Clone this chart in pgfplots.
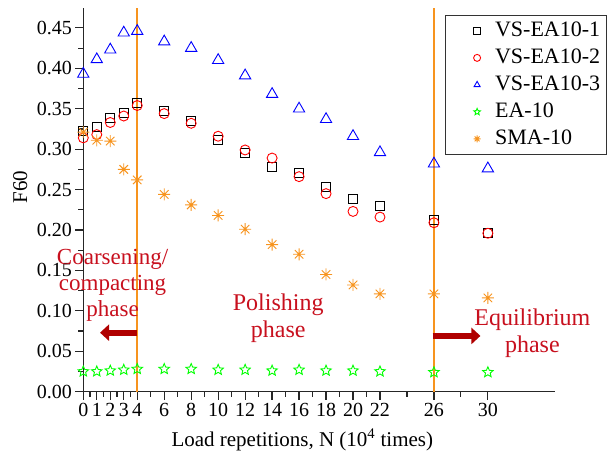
\documentclass[border=0pt]{standalone}
\usepackage{pgfplots}
\pgfplotsset{compat=1.18}
\usepackage{pgfplotstable}
\usepackage{fontspec}
\setmainfont{Liberation Serif}
\usetikzlibrary{arrows.meta}
\definecolor{myorange}{RGB}{247,148,30}
\definecolor{anncol}{RGB}{200,16,30}
\definecolor{arrcol}{RGB}{176,0,0}
\definecolor{mygreen}{RGB}{0,255,0}

\pgfdeclareplotmark{ast8}{%
  \pgfpathmoveto{\pgfqpoint{-\pgfplotmarksize}{0pt}}\pgfpathlineto{\pgfqpoint{\pgfplotmarksize}{0pt}}%
  \pgfpathmoveto{\pgfqpoint{0pt}{-\pgfplotmarksize}}\pgfpathlineto{\pgfqpoint{0pt}{\pgfplotmarksize}}%
  \pgfpathmoveto{\pgfpointpolar{45}{\pgfplotmarksize}}\pgfpathlineto{\pgfpointpolar{225}{\pgfplotmarksize}}%
  \pgfpathmoveto{\pgfpointpolar{135}{\pgfplotmarksize}}\pgfpathlineto{\pgfpointpolar{315}{\pgfplotmarksize}}%
  \pgfusepathqstroke}
\pgfdeclareplotmark{ostar}{%
  \pgfpathmoveto{\pgfpointpolar{90}{\pgfplotmarksize}}%
  \pgfpathlineto{\pgfpointpolar{126}{0.45\pgfplotmarksize}}%
  \pgfpathlineto{\pgfpointpolar{162}{\pgfplotmarksize}}%
  \pgfpathlineto{\pgfpointpolar{198}{0.45\pgfplotmarksize}}%
  \pgfpathlineto{\pgfpointpolar{234}{\pgfplotmarksize}}%
  \pgfpathlineto{\pgfpointpolar{270}{0.45\pgfplotmarksize}}%
  \pgfpathlineto{\pgfpointpolar{306}{\pgfplotmarksize}}%
  \pgfpathlineto{\pgfpointpolar{342}{0.45\pgfplotmarksize}}%
  \pgfpathlineto{\pgfpointpolar{18}{\pgfplotmarksize}}%
  \pgfpathlineto{\pgfpointpolar{54}{0.45\pgfplotmarksize}}%
  \pgfpathclose\pgfusepathqstroke}

\pgfplotstableread{
x    vsa   vsb   vsc   ea    sma
0    0.323 0.314 0.393 0.025 0.321
1    0.328 0.318 0.411 0.025 0.311
2    0.338 0.333 0.423 0.026 0.310
3    0.345 0.341 0.444 0.027 0.275
4    0.357 0.354 0.446 0.028 0.262
6    0.347 0.344 0.433 0.028 0.244
8    0.335 0.332 0.425 0.028 0.231
10   0.312 0.316 0.410 0.027 0.218
12   0.295 0.299 0.391 0.027 0.201
14   0.278 0.289 0.368 0.026 0.182
16   0.270 0.266 0.350 0.027 0.170
18   0.253 0.245 0.337 0.026 0.145
20   0.238 0.223 0.316 0.026 0.132
22   0.230 0.216 0.296 0.025 0.121
26   0.213 0.209 0.282 0.024 0.121
30   0.196 0.196 0.276 0.024 0.116
}\datatable

\pgfplotsset{
  mylegimg/.style={legend image code/.code={%
    \path[draw=none,fill=none] (0pt,-6pt) rectangle (44pt,6pt);
    \draw[##1] plot coordinates {(28pt,0pt)};}},
}

\begin{document}
\begin{tikzpicture}
\begin{axis}[
  at={(0,0)}, anchor=south west,
  scale only axis, width=472pt, height=384pt,
  xmin=0, xmax=35, ymin=0, ymax=0.475,
  clip=false,
  axis x line*=bottom, axis y line*=left,
  axis line style={line width=1.4pt, black!85},
  tick align=outside,
  major tick length=8pt, minor tick length=5pt,
  every tick/.style={line width=1.2pt, black!85},
  xtick={0,1,2,3,4,6,8,10,12,14,16,18,20,22,26,30},
  minor xtick={0.5,1.5,2.5,3.5,5,7,9,11,13,15,17,19,21,24,28},
  ytick={0,0.05,0.10,0.15,0.20,0.25,0.30,0.35,0.40,0.45},
  minor ytick={0.025,0.075,0.125,0.175,0.225,0.275,0.325,0.375,0.425},
  /pgf/number format/assume math mode=true,
  y tick label style={/pgf/number format/.cd, fixed, fixed zerofill, precision=2},
  ticklabel style={font=\fontsize{20}{24}\selectfont},
  xticklabel style={inner xsep=0pt},
  xlabel={Load repetitions, N (10\textsuperscript{4} times)},
  ylabel={F60},
  label style={font=\fontsize{21}{25}\selectfont},
  xlabel style={at={(axis description cs:0.464,-0.125)}, anchor=center},
  ylabel style={at={(axis description cs:-0.1335,0.533)}, anchor=center, rotate=0},
  legend style={at={(axis description cs:0.7657,0.981)}, anchor=north west,
    font=\fontsize{22}{26}\selectfont, draw=black!80, line width=0.8pt,
    row sep=4pt, inner xsep=4pt, inner ysep=4pt,
    nodes={inner sep=2pt, text height=15pt, text depth=4pt}},
  legend cell align=left,
  legend image post style={mark size=3.5pt},
]
\addplot[myorange, line width=1.6pt, forget plot] coordinates {(4,0) (4,0.475)};
\addplot[myorange, line width=1.6pt, forget plot] coordinates {(26,0) (26,0.475)};

\addplot[only marks, mylegimg, mark=square, mark size=4.5pt, black, line width=0.9pt] table[x=x,y=vsa] {\datatable};
\addlegendentry{VS-EA10-1}
\addplot[only marks, mylegimg, mark=o, mark size=5pt, red, line width=0.9pt] table[x=x,y=vsb] {\datatable};
\addlegendentry{VS-EA10-2}
\addplot[only marks, mylegimg, mark=triangle, mark size=6.5pt, blue, line width=0.9pt] table[x=x,y=vsc] {\datatable};
\addlegendentry{VS-EA10-3}
\addplot[only marks, mylegimg, mark=ostar, mark size=5.5pt, mygreen, line width=0.9pt] table[x=x,y=ea] {\datatable};
\addlegendentry{EA-10}
\addplot[only marks, mylegimg, mark=ast8, mark size=6pt, myorange, line width=0.9pt] table[x=x,y=sma] {\datatable};
\addlegendentry{SMA-10}

\node[text=anncol, align=center, font=\fontsize{23}{26}\selectfont] at (axis cs:2.17,0.131) {Coarsening/\\compacting\\phase};
\node[text=anncol, align=center, font=\fontsize{24}{27}\selectfont] at (axis cs:14.45,0.091) {Polishing\\phase};
\node[text=anncol, align=center, font=\fontsize{24}{27}\selectfont] at (axis cs:33.3,0.0725) {Equilibrium\\phase};
\draw[arrcol, line width=6pt, -{Triangle[length=9pt,width=16pt]}] (axis cs:4,0.073) -- (axis cs:1.24,0.073);
\draw[arrcol, line width=6pt, -{Triangle[length=9pt,width=16pt]}] (axis cs:25.9,0.069) -- (axis cs:29.45,0.069);
\end{axis}
\pgfresetboundingbox
\useasboundingbox (-83.3pt,-70.3pt) rectangle (532.7pt,391.7pt);
\end{tikzpicture}
\end{document}
